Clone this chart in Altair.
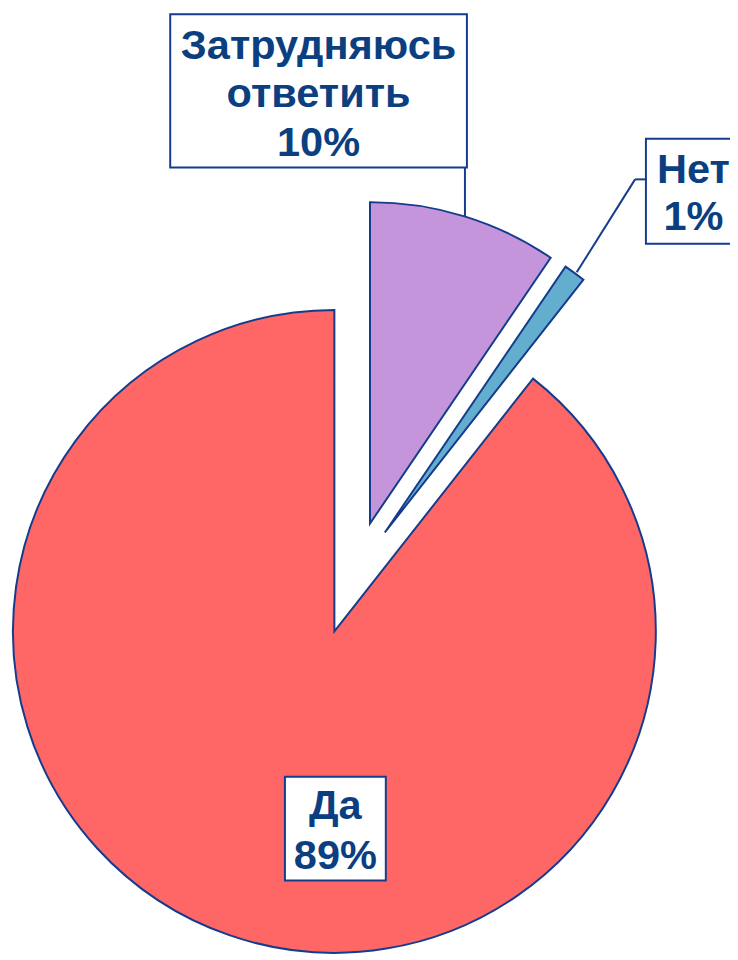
import math
import altair as alt
import pandas as pd

# ---- data ----
categories = ["Затрудняюсь ответить", "Нет", "Да"]
values = [9.5, 1.1, 89.4]
label_texts = ["Затрудняюсь\nответить\n10%", "Нет\n1%", "Да\n89%"]
slice_colors = ["#C495DB", "#63AECF", "#FF6666"]

df = pd.DataFrame({
    "order": list(range(len(categories))),
    "category": categories,
    "value": values,
    "label": label_texts,
})
total = sum(values)

NAVY = "#153C8C"
TEXT = "#0B3F7F"
R = 325

# styling / placement (pixels in the view)
slice_centers = {
    "Затрудняюсь ответить": (366, 516),
    "Нет": (381, 525),
    "Да": (330, 625),
}
label_boxes = {
    # x, x2, y, y2, text x, first baseline y, line height
    "Затрудняюсь ответить": (164, 464, 1, 156, 314, 46, 49),
    "Нет": (645, 745, 127, 233, 693, 172, 47),
    "Да": (280, 382, 772, 877, 331, 815, 50),
}
leaders = [
    (462, 156, 462, 206),
    (645, 168, 634, 168),
    (634, 168, 575, 262),
]

base = alt.Chart(df).transform_window(
    cum="sum(value)", sort=[alt.SortField("order")]
).transform_calculate(start="datum.cum - datum.value")

theta_scale = alt.Scale(domain=[0, total], range=[0, 2 * math.pi])
color_scale = alt.Scale(domain=categories, range=slice_colors)

layers = []
for cat in categories:
    cx, cy = slice_centers[cat]
    layers.append(
        base.transform_filter(alt.datum.category == cat)
        .mark_arc(outerRadius=R, stroke=NAVY, strokeWidth=2)
        .encode(
            theta=alt.Theta("start:Q", scale=theta_scale),
            theta2=alt.Theta2("cum:Q"),
            color=alt.Color("category:N", scale=color_scale, legend=None),
            x=alt.value(cx),
            y=alt.value(cy),
        )
    )

for x1, y1, x2, y2 in leaders:
    layers.append(
        alt.Chart(df.head(1)).mark_rule(color=NAVY, strokeWidth=2).encode(
            x=alt.value(x1), y=alt.value(y1), x2=alt.value(x2), y2=alt.value(y2)
        )
    )

for cat in categories:
    bx1, bx2, by1, by2, tx, ty, lh = label_boxes[cat]
    sub = alt.Chart(df).transform_filter(alt.datum.category == cat)
    layers.append(
        sub.mark_rect(fill="white", stroke=NAVY, strokeWidth=2).encode(
            x=alt.value(bx1), x2=alt.value(bx2), y=alt.value(by1), y2=alt.value(by2)
        )
    )
    layers.append(
        sub.mark_text(
            align="center", baseline="alphabetic", lineBreak="\n", lineHeight=lh,
            font="Liberation Sans", fontWeight="bold", fontSize=42, color=TEXT,
        ).encode(text="label:N", x=alt.value(tx), y=alt.value(ty))
    )

chart = alt.layer(*layers).properties(
    width=730, height=952, padding=0, autosize="none"
).configure_view(stroke=None)

chart.save("out.html", embed_options={"renderer": "svg", "actions": False})
